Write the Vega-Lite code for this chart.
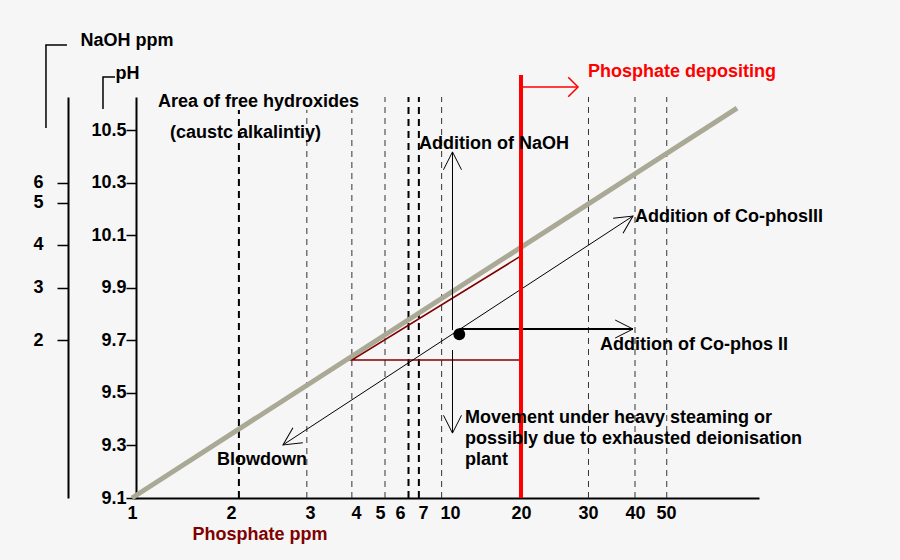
{
  "$schema": "https://vega.github.io/schema/vega-lite/v6.json",
  "width": 627,
  "height": 401,
  "autosize": {"type": "none"},
  "padding": {"left": 132, "top": 97, "right": 141, "bottom": 62},
  "background": "#f6f6f6",
  "config": {
    "view": {"stroke": null},
    "font": "Liberation Sans",
    "axis": {
      "labelFont": "Liberation Sans",
      "titleFont": "Liberation Sans",
      "labelFontSize": 18,
      "labelFontWeight": "bold",
      "labelColor": "#000000",
      "labelOverlap": false,
      "titleFontSize": 18,
      "titleFontWeight": "bold",
      "titleColor": "#000000",
      "domainColor": "#000000",
      "tickColor": "#000000",
      "grid": false
    }
  },
  "datasets": {
    "grid_light": [
      {"ppm": 2.96, "ph": 9.1, "ph2": 10.577},
      {"ppm": 3.91, "ph": 9.1, "ph2": 10.577},
      {"ppm": 5.25, "ph": 9.1, "ph2": 10.626},
      {"ppm": 9.07, "ph": 9.1, "ph2": 10.626},
      {"ppm": 30.1, "ph": 9.1, "ph2": 10.626},
      {"ppm": 40, "ph": 9.1, "ph2": 10.626},
      {"ppm": 50.4, "ph": 9.1, "ph2": 10.626}
    ],
    "grid_heavy": [
      {"ppm": 2.1, "ph": 9.1, "ph2": 10.577},
      {"ppm": 6.37, "ph": 9.1, "ph2": 10.626},
      {"ppm": 6.82, "ph": 9.1, "ph2": 10.626}
    ],
    "curve": [
      {"ppm": 1, "ph": 9.1},
      {"ppm": 88.2, "ph": 10.584}
    ],
    "triangle": [
      {"ppm": 20, "ph": 10.021, "seq": 1},
      {"ppm": 3.91, "ph": 9.625, "seq": 2},
      {"ppm": 20, "ph": 9.625, "seq": 3}
    ],
    "shafts_thin": [
      {"ppm": 2.658, "ph": 9.302, "ppm2": 39.57, "ph2": 10.173},
      {"ppm": 10.35, "ph": 9.739, "ppm2": 10.35, "ph2": 10.417},
      {"ppm": 10.35, "ph": 9.663, "ppm2": 10.35, "ph2": 9.347}
    ],
    "shafts_thick": [
      {"ppm": 11.31, "ph": 9.743, "ppm2": 39.57, "ph2": 9.743}
    ],
    "heads": [
      {"ppm": 2.658, "ph": 9.302, "angle": 236.8},
      {"ppm": 39.57, "ph": 10.173, "angle": 56.8},
      {"ppm": 39.57, "ph": 9.743, "angle": 90},
      {"ppm": 10.35, "ph": 10.417, "angle": 0},
      {"ppm": 10.35, "ph": 9.347, "angle": 180}
    ],
    "dot": [{"ppm": 11.31, "ph": 9.723}],
    "red_line": [{"ppm": 20, "ph": 9.1, "ph2": 10.71}],
    "red_arrow": [{"ppm": 20.1, "ppm2": 28.51, "ph": 10.664}],
    "red_head": [{"ppm": 28.51, "ph": 10.664, "angle": 90}],
    "brackets": [
      {"axis": "naoh", "seq": 1, "ppm": 0.131, "ph": 10.508},
      {"axis": "naoh", "seq": 2, "ppm": 0.131, "ph": 10.824},
      {"axis": "naoh", "seq": 3, "ppm": 0.343, "ph": 10.824},
      {"axis": "ph", "seq": 1, "ppm": 0.707, "ph": 10.58},
      {"axis": "ph", "seq": 2, "ppm": 0.707, "ph": 10.702},
      {"axis": "ph", "seq": 3, "ppm": 0.828, "ph": 10.702}
    ],
    "labels": [
      {"ppm": 1.263, "ph": 10.588, "label": "Area of free hydroxides"},
      {"ppm": 1.384, "ph": 10.47, "label": "(caustc alkalintiy)"},
      {"ppm": 6.83, "ph": 10.428, "label": "Addition of NaOH"},
      {"ppm": 40, "ph": 10.15, "label": "Addition of Co-phosIII"},
      {"ppm": 32.55, "ph": 9.663, "label": "Addition of Co-phos II"},
      {"ppm": 12.11, "ph": 9.385, "label": "Movement under heavy steaming or"},
      {"ppm": 12.11, "ph": 9.306, "label": "possibly due to exhausted deionisation"},
      {"ppm": 12.11, "ph": 9.226, "label": "plant"},
      {"ppm": 1.859, "ph": 9.226, "label": "Blowdown"}
    ],
    "red_labels": [
      {"ppm": 30, "ph": 10.702, "label": "Phosphate depositing"}
    ],
    "naoh_ticks": [
      {"naoh": 2, "ph": 9.701},
      {"naoh": 3, "ph": 9.9},
      {"naoh": 4, "ph": 10.063},
      {"naoh": 5, "ph": 10.223},
      {"naoh": 6, "ph": 10.3}
    ]
  },
  "encoding": {
    "x": {
      "field": "ppm",
      "type": "quantitative",
      "scale": {
        "domain": [1, 2, 3, 4, 5, 6, 7, 10, 20, 30, 40, 50, 100],
        "range": [0, 99, 178, 224, 248, 268, 291, 318, 389, 456, 503, 534, 627],
        "nice": false,
        "zero": false
      },
      "axis": {
        "values": [1, 2, 3, 4, 5, 6, 7, 10, 20, 30, 40, 50],
        "ticks": false,
        "labelFlush": false,
        "labelOverlap": false,
        "labelPadding": 6,
        "domainWidth": 2,
        "title": "Phosphate ppm",
        "titleColor": "#800000",
        "titleAlign": "left",
        "titleBaseline": "alphabetic",
        "titleX": 60,
        "titleY": 41
      }
    },
    "y": {
      "field": "ph",
      "type": "quantitative",
      "scale": {"domain": [9.1, 10.626], "nice": false, "zero": false},
      "axis": null
    }
  },
  "layer": [
    {
      "data": {"name": "grid_light"},
      "mark": {"type": "rule", "stroke": "#333333", "strokeWidth": 1, "strokeDash": [6, 5]},
      "encoding": {"y2": {"field": "ph2"}}
    },
    {
      "data": {"name": "grid_heavy"},
      "mark": {"type": "rule", "stroke": "#000000", "strokeWidth": 2, "strokeDash": [7, 5]},
      "encoding": {"y2": {"field": "ph2"}}
    },
    {
      "data": {"name": "curve"},
      "mark": {"type": "line", "stroke": "#a9a996", "strokeWidth": 5, "strokeCap": "butt"},
      "encoding": {
        "y": {
          "field": "ph",
          "type": "quantitative",
          "scale": {"domain": [9.1, 10.626], "nice": false, "zero": false},
          "axis": {
            "orient": "left",
            "offset": -4,
            "values": [9.1, 9.3, 9.5, 9.7, 9.9, 10.1, 10.3, 10.5],
            "format": ".1f",
            "tickSize": 10,
            "tickWidth": 1.5,
            "domainWidth": 2,
            "labelPadding": 0,
            "title": "pH",
            "titleAngle": 0,
            "titleAlign": "left",
            "titleBaseline": "alphabetic",
            "titleX": -21,
            "titleY": -19
          }
        }
      }
    },
    {
      "data": {"name": "triangle"},
      "mark": {"type": "line", "stroke": "#800000", "strokeWidth": 1.5},
      "encoding": {"order": {"field": "seq", "type": "quantitative"}}
    },
    {
      "data": {"name": "shafts_thin"},
      "mark": {"type": "rule", "stroke": "#000000", "strokeWidth": 1},
      "encoding": {"x2": {"field": "ppm2"}, "y2": {"field": "ph2"}}
    },
    {
      "data": {"name": "shafts_thick"},
      "mark": {"type": "rule", "stroke": "#000000", "strokeWidth": 2},
      "encoding": {"x2": {"field": "ppm2"}, "y2": {"field": "ph2"}}
    },
    {
      "data": {"name": "heads"},
      "mark": {"type": "point", "shape": "M -0.45 0.89 L 0 0 L 0.45 0.89", "filled": false, "stroke": "#000000", "strokeWidth": 1, "size": 1600, "opacity": 1},
      "encoding": {"angle": {"field": "angle", "type": "quantitative", "scale": null}}
    },
    {
      "data": {"name": "dot"},
      "mark": {"type": "point", "shape": "circle", "filled": true, "color": "#000000", "size": 140, "opacity": 1}
    },
    {
      "data": {"name": "red_line"},
      "mark": {"type": "rule", "stroke": "#ff0000", "strokeWidth": 4},
      "encoding": {"y2": {"field": "ph2"}}
    },
    {
      "data": {"name": "red_arrow"},
      "mark": {"type": "rule", "stroke": "#ff0000", "strokeWidth": 1.5},
      "encoding": {"x2": {"field": "ppm2"}}
    },
    {
      "data": {"name": "red_head"},
      "mark": {"type": "point", "shape": "M -0.7 0.7 L 0 0 L 0.7 0.7", "filled": false, "stroke": "#ff0000", "strokeWidth": 1.5, "size": 784, "opacity": 1},
      "encoding": {"angle": {"field": "angle", "type": "quantitative", "scale": null}}
    },
    {
      "data": {"name": "brackets"},
      "mark": {"type": "line", "stroke": "#000000", "strokeWidth": 1.5},
      "encoding": {
        "detail": {"field": "axis", "type": "nominal"},
        "order": {"field": "seq", "type": "quantitative"}
      }
    },
    {
      "data": {"name": "labels"},
      "mark": {"type": "text", "align": "left", "baseline": "alphabetic", "font": "Liberation Sans", "fontSize": 18, "fontWeight": "bold", "color": "#000000"},
      "encoding": {"text": {"field": "label", "type": "nominal"}}
    },
    {
      "data": {"name": "red_labels"},
      "mark": {"type": "text", "align": "left", "baseline": "alphabetic", "font": "Liberation Sans", "fontSize": 18, "fontWeight": "bold", "color": "#ff0000"},
      "encoding": {"text": {"field": "label", "type": "nominal"}}
    },
    {
      "data": {"name": "naoh_ticks"},
      "mark": {"type": "point", "opacity": 0},
      "encoding": {
        "y": {
          "field": "ph",
          "type": "quantitative",
          "scale": {"domain": [9.1, 10.626], "nice": false, "zero": false},
          "axis": {
            "orient": "left",
            "offset": 64,
            "values": [9.701, 9.9, 10.063, 10.223, 10.3],
            "labelExpr": "datum.value < 9.8 ? '2' : datum.value < 10 ? '3' : datum.value < 10.15 ? '4' : datum.value < 10.26 ? '5' : '6'",
            "tickSize": 11,
            "tickWidth": 1.5,
            "domainWidth": 2,
            "labelPadding": 14,
            "title": "NaOH ppm",
            "titleAngle": 0,
            "titleAlign": "left",
            "titleBaseline": "alphabetic",
            "titleX": 12,
            "titleY": -52
          }
        }
      }
    }
  ],
  "resolve": {"axis": {"y": "independent"}}
}
